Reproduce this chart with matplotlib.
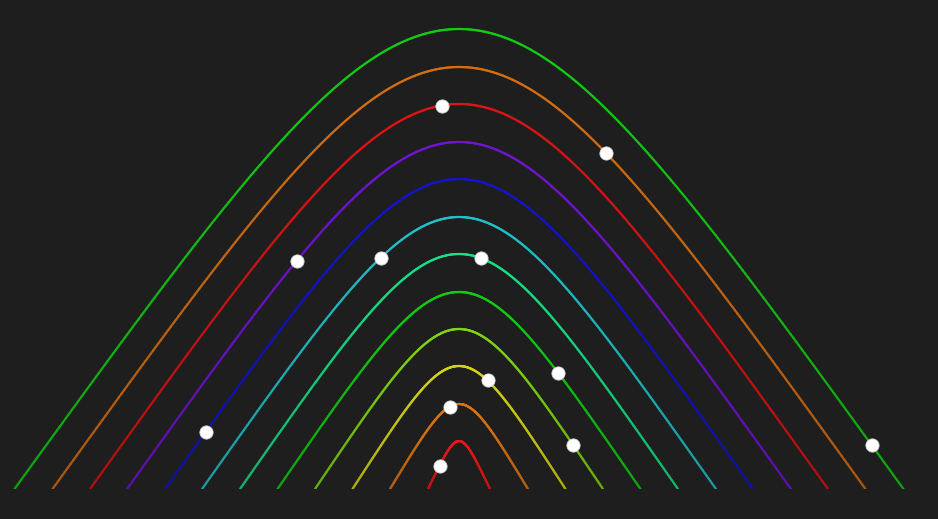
import numpy as np
import matplotlib
matplotlib.use("Agg")
import matplotlib.pyplot as plt
from matplotlib.collections import LineCollection
from matplotlib.colors import to_rgb

# arches from innermost to outermost (cubic bezier, both handles at the top centre)
peak_heights = [48, 85, 123, 160, 197, 235, 272, 310, 347, 385, 422, 460]
half_widths = [31, 69, 106.5, 144, 181.5, 219, 257, 294, 332, 369, 406.5, 444.5]
arch_colors = ["#e81818", "#dc7412", "#d4d414", "#80d412", "#12cc12", "#16e088",
               "#20c0c8", "#1414cc", "#7014d4", "#dc1414", "#d46e12", "#14cc14"]
# one marker per arch, horizontal offset from the centre
dot_offsets = [-19.5, -9.5, 28.5, 114, 99, 21.5, -78.5, -253.5, -162.5, -17.5, 146.5, 412.5]

BG = "#1e1e1e"
CENTER = 459


def bezier(t, h, w):
    # P0=(-w,0), P1=P2=(0, 4h/3), P3=(w,0)
    x = w * (t ** 3 - (1 - t) ** 3)
    y = 4 * h * t * (1 - t)
    return x, y


def height_at(dx, h, w):
    # solve x(t)=dx, with s=t-0.5: 2s^3 + 1.5s - dx/w = 0
    r = np.roots([2, 0, 1.5, -dx / w])
    s = r[np.abs(r.imag) < 1e-9].real[0]
    return bezier(s + 0.5, h, w)[1]


fig = plt.figure(figsize=(9.38, 5.19), dpi=100, facecolor=BG)
ax = fig.add_axes([0, 30 / 519, 1, 489 / 519])
ax.set_facecolor(BG)
ax.set_xlim(-CENTER, 938 - CENTER)
ax.set_ylim(0, 489)
ax.axis("off")

t = np.linspace(0, 1, 400)
for h, w, c in zip(peak_heights, half_widths, arch_colors):
    x, y = bezier(t, h, w)
    pts = np.column_stack([x, y]).reshape(-1, 1, 2)
    segs = np.concatenate([pts[:-1], pts[1:]], axis=1)
    frac = np.clip((y[:-1] + y[1:]) / (2 * h), 0, 1)
    base = np.array(to_rgb(c))
    cols = [tuple(np.clip(base * (0.8 + 0.2 * f), 0, 1)) for f in frac]
    ax.add_collection(LineCollection(segs, colors=cols, linewidths=1.6,
                                     capstyle="round", joinstyle="round"))

dot_y = [height_at(dx, h, w) for dx, h, w in zip(dot_offsets, peak_heights, half_widths)]
ax.plot(dot_offsets, dot_y, "o", color="white", markersize=9.5,
        markeredgecolor="#d8d8d8", markeredgewidth=0.6, zorder=5, clip_on=False)

fig.savefig("out.png", dpi=100, facecolor=BG)
